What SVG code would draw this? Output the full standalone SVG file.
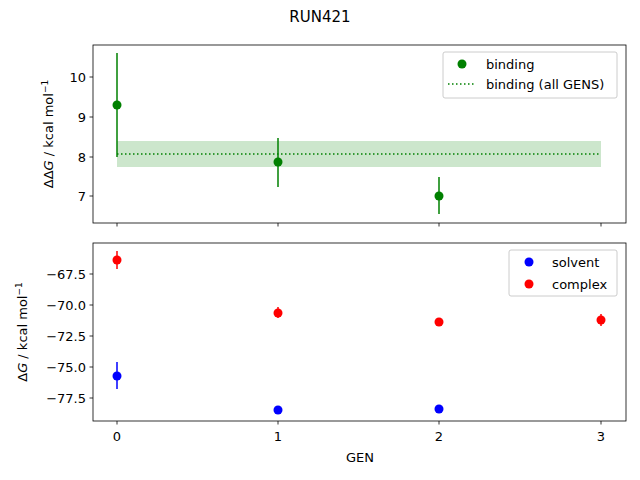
<svg xmlns="http://www.w3.org/2000/svg" width="640" height="480" viewBox="0 0 640 480">
<style>
text{font-family:"DejaVu Sans",sans-serif;font-size:13px;fill:#000}
.ax{fill:none;stroke:#000;stroke-width:0.8}
.tk{stroke:#000;stroke-width:0.8}
.g{fill:#008000}.ge{stroke:#008000;stroke-width:1.5}
.b{fill:#0000ff}.be{stroke:#0000ff;stroke-width:1.5}
.r{fill:#ff0000}.re{stroke:#ff0000;stroke-width:1.5}
.leg{fill:#fff;fill-opacity:0.8;stroke:#ccc;stroke-width:1}
</style>
<rect width="640" height="480" fill="#fff"/>
<text x="320" y="22" text-anchor="middle" style="font-size:15px">RUN421</text>
<g id="top">
<rect x="117" y="141" width="484" height="26" fill="#008000" fill-opacity="0.2"/>
<line x1="117" y1="154" x2="601" y2="154" stroke="#008000" stroke-width="1.5" stroke-dasharray="1.5,2.5"/>
<line class="ge" x1="117" y1="53" x2="117" y2="157"/><circle class="g" cx="117" cy="105" r="4.5"/>
<line class="ge" x1="278" y1="138" x2="278" y2="187"/><circle class="g" cx="278" cy="162" r="4.5"/>
<line class="ge" x1="439" y1="177" x2="439" y2="214"/><circle class="g" cx="439" cy="196" r="4.5"/>
<rect class="ax" x="93" y="45" width="533" height="178"/>
<g class="tk"><line x1="93" y1="77" x2="89.5" y2="77"/><line x1="93" y1="117" x2="89.5" y2="117"/><line x1="93" y1="157" x2="89.5" y2="157"/><line x1="93" y1="196" x2="89.5" y2="196"/>
<line x1="117" y1="223" x2="117" y2="226.5"/><line x1="278" y1="223" x2="278" y2="226.5"/><line x1="439" y1="223" x2="439" y2="226.5"/><line x1="601" y1="223" x2="601" y2="226.5"/></g>
<g text-anchor="end"><text x="86" y="82">10</text><text x="86" y="122">9</text><text x="86" y="162">8</text><text x="86" y="201">7</text></g>
<text transform="translate(53,134) rotate(-90)" text-anchor="middle">ΔΔ<tspan font-style="italic">G</tspan> / kcal mol<tspan dy="-5" style="font-size:9px">−1</tspan></text>
<rect class="leg" x="443" y="52" width="174" height="46" rx="2"/>
<circle class="g" cx="462" cy="64" r="4.5"/><text x="486" y="69">binding</text>
<line x1="448" y1="84" x2="476" y2="84" stroke="#008000" stroke-width="1.5" stroke-dasharray="1.5,2.5"/><text x="486" y="89">binding (all GENS)</text>
</g>
<g id="bottom">
<line class="re" x1="117" y1="251" x2="117" y2="269"/><circle class="r" cx="117" cy="260" r="4.5"/>
<line class="re" x1="278" y1="307" x2="278" y2="318"/><circle class="r" cx="278" cy="313" r="4.5"/>
<circle class="r" cx="439" cy="322" r="4.5"/>
<line class="re" x1="601" y1="314" x2="601" y2="326"/><circle class="r" cx="601" cy="320" r="4.5"/>
<line class="be" x1="117" y1="362" x2="117" y2="389"/><circle class="b" cx="117" cy="376" r="4.5"/>
<circle class="b" cx="278" cy="410" r="4.5"/>
<circle class="b" cx="439" cy="409" r="4.5"/>
<rect class="ax" x="93" y="243" width="533" height="178"/>
<g class="tk"><line x1="93" y1="274" x2="89.5" y2="274"/><line x1="93" y1="305" x2="89.5" y2="305"/><line x1="93" y1="336" x2="89.5" y2="336"/><line x1="93" y1="367" x2="89.5" y2="367"/><line x1="93" y1="398" x2="89.5" y2="398"/>
<line x1="117" y1="421" x2="117" y2="424.5"/><line x1="278" y1="421" x2="278" y2="424.5"/><line x1="439" y1="421" x2="439" y2="424.5"/><line x1="601" y1="421" x2="601" y2="424.5"/></g>
<g text-anchor="end"><text x="86" y="279">−67.5</text><text x="86" y="310">−70.0</text><text x="86" y="341">−72.5</text><text x="86" y="372">−75.0</text><text x="86" y="403">−77.5</text></g>
<g text-anchor="middle"><text x="117" y="441">0</text><text x="278" y="441">1</text><text x="439" y="441">2</text><text x="601" y="441">3</text><text x="360" y="462">GEN</text></g>
<text transform="translate(27,332) rotate(-90)" text-anchor="middle">Δ<tspan font-style="italic">G</tspan> / kcal mol<tspan dy="-5" style="font-size:9px">−1</tspan></text>
<rect class="leg" x="509" y="250" width="108" height="46" rx="2"/>
<circle class="b" cx="529" cy="262" r="4.5"/><text x="552" y="267">solvent</text>
<circle class="r" cx="529" cy="284" r="4.5"/><text x="552" y="289">complex</text>
</g>
</svg>
